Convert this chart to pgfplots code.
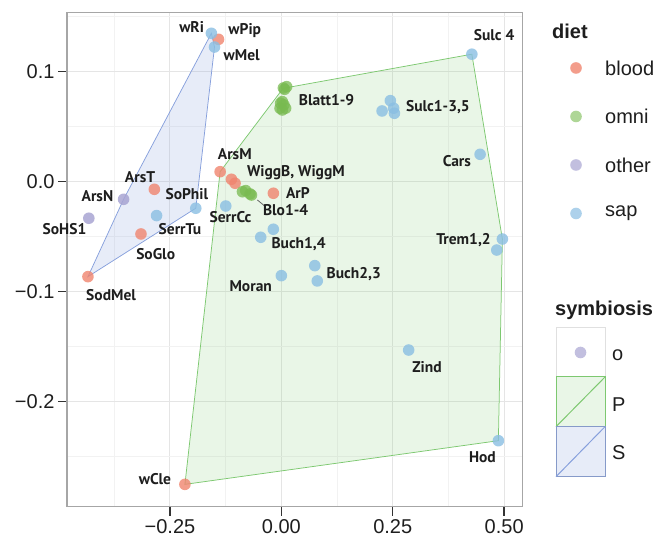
\documentclass[border=0pt]{standalone}
\usepackage{fontspec}
\setmainfont{Liberation Sans}
\newfontfamily\labfont{PT Sans}
\usepackage{pgfplots}
\pgfplotsset{compat=1.18}
\definecolor{cblood}{RGB}{240,132,110}
\definecolor{comni}{RGB}{120,186,80}
\definecolor{cother}{RGB}{168,164,210}
\definecolor{csap}{RGB}{138,190,226}
\definecolor{hullP}{RGB}{125,200,112}
\definecolor{hullS}{RGB}{135,160,220}
\definecolor{txt}{RGB}{30,30,30}
\begin{document}
\begin{tikzpicture}[x=1bp,y=1bp]
\path[use as bounding box] (0,0) rectangle (662,542);
\begin{axis}[
  at={(67bp,35.3bp)}, anchor=south west,
  scale only axis, width=455.7bp, height=494.4bp,
  xmin=-0.481, xmax=0.5416, ymin=-0.2958, ymax=0.1536,
  xtick={-0.25,0,0.25,0.5}, xticklabels={−0.25,0.00,0.25,0.50},
  ytick={-0.2,-0.1,0,0.1}, yticklabels={−0.2,−0.1,0.0,0.1},
  minor xtick={-0.375,-0.125,0.125,0.375},
  minor ytick={-0.25,-0.15,-0.05,0.05,0.15},
  grid=both,
  major grid style={line width=0.9bp, black!10},
  minor grid style={line width=0.6bp, black!5},
  tick align=outside, xtick pos=left, ytick pos=left,
  major tick length=9bp, minor tick length=0pt,
  major tick style={line width=1.4bp, black!80},
  axis line style={line width=1.2bp, black!35},
  tick label style={font=\fontsize{20bp}{23bp}\selectfont, text=txt},
  clip=false,
]
% hulls
\addplot[draw=hullP, line width=0.75bp, fill=hullP, fill opacity=0.17] coordinates {
 (-0.2164,-0.2755) (0.487,-0.2358) (0.496,-0.0525) (0.4275,0.1155) (0.004,0.0845) (-0.1374,0.0087)} -- cycle;
\addplot[draw=hullS, line width=0.75bp, fill=hullS, fill opacity=0.2] coordinates {
 (-0.157,0.1345) (-0.150,0.122) (-0.192,-0.0245) (-0.434,-0.0867) (-0.354,-0.0164)} -- cycle;
% points
\addplot[only marks, mark=*, mark size=5.8bp, mark options={fill=cblood, draw opacity=0, fill opacity=0.8}] coordinates {
 (-0.141,0.129) (-0.1374,0.0087) (-0.112,0.0018) (-0.1038,-0.0018) (-0.0179,-0.0109)
 (-0.285,-0.0073) (-0.315,-0.0479) (-0.434,-0.0867) (-0.2164,-0.2755)};
\addplot[only marks, mark=*, mark size=5.8bp, mark options={fill=comni, draw opacity=0, fill opacity=0.75}] coordinates {
 (0.0045,0.0848) (0.0119,0.086) (0.0074,0.0836) (0.0022,0.0724) (0.0058,0.0694)
 (-0.003,0.0664) (0.0022,0.0648) (0.0096,0.0664) (-0.0016,0.0709)
 (-0.0873,-0.0095) (-0.080,-0.0085) (-0.0703,-0.0115) (-0.067,-0.0125)};
\addplot[only marks, mark=*, mark size=5.8bp, mark options={fill=cother, draw opacity=0, fill opacity=0.85}] coordinates {
 (-0.354,-0.0164) (-0.432,-0.0336)};
\addplot[only marks, mark=*, mark size=5.8bp, mark options={fill=csap, draw opacity=0, fill opacity=0.8}] coordinates {
 (-0.157,0.1345) (-0.150,0.122) (-0.192,-0.0245) (-0.280,-0.0312) (-0.1247,-0.0225)
 (-0.018,-0.0436) (-0.0463,-0.0509) (0.0,-0.0858) (0.075,-0.0767) (0.0806,-0.0906)
 (0.4275,0.1155) (0.2446,0.0733) (0.226,0.0639) (0.252,0.0664) (0.2537,0.0618)
 (0.446,0.0245) (0.496,-0.0525) (0.4834,-0.0625) (0.2857,-0.1534) (0.487,-0.2358)};
% leader line
\draw[black!60, line width=0.8bp] (axis cs:-0.0537,-0.0170) -- (axis cs:-0.0374,-0.0225);
% labels
\begin{scope}[every node/.style={font=\labfont\bfseries\fontsize{15.5bp}{18bp}\selectfont, text=txt, inner sep=0pt}]
\node at (axis cs:-0.2014,0.1405) {wRi};
\node at (axis cs:-0.0821,0.1369) {wPip};
\node at (axis cs:-0.0889,0.1148) {wMel};
\node at (axis cs:0.1014,0.0742) {Blatt1-9};
\node at (axis cs:-0.1045,0.0248) {ArsM};
\node at (axis cs:0.0327,0.0080) {WiggB, WiggM};
\node at (axis cs:0.0372,-0.0104) {ArP};
\node at (axis cs:0.0096,-0.0261) {Blo1-4};
\node at (axis cs:-0.3171,0.0039) {ArsT};
\node at (axis cs:-0.4127,-0.0134) {ArsN};
\node at (axis cs:-0.2120,-0.0115) {SoPhil};
\node at (axis cs:-0.4866,-0.0434) {SoHS1};
\node at (axis cs:-0.2276,-0.0434) {SerrTu};
\node at (axis cs:-0.1141,-0.0327) {SerrCc};
\node at (axis cs:-0.2820,-0.0661) {SoGlo};
\node at (axis cs:-0.3821,-0.1034) {SodMel};
\node at (axis cs:0.0387,-0.0570) {Buch1,4};
\node at (axis cs:-0.0687,-0.0958) {Moran};
\node at (axis cs:0.1625,-0.0843) {Buch2,3};
\node at (axis cs:0.4774,0.1330) {Sulc 4};
\node at (axis cs:0.3514,0.0671) {Sulc1-3,5};
\node at (axis cs:0.3939,0.0185) {Cars};
\node at (axis cs:0.4087,-0.0534) {Trem1,2};
\node at (axis cs:0.3268,-0.1685) {Zind};
\node at (axis cs:0.4512,-0.2504) {Hod};
\node at (axis cs:-0.2836,-0.2706) {wCle};
\end{scope}
\end{axis}
% legend: diet
\begin{scope}[every node/.style={inner sep=0pt, text=txt}]
\node[anchor=west, font=\bfseries\fontsize{20bp}{24bp}\selectfont] at (552,511) {diet};
\fill[cblood, opacity=0.8] (576,474) circle (5.8);
\fill[comni, opacity=0.6] (576,425.5) circle (5.8);
\fill[cother, opacity=0.7] (576,377) circle (5.8);
\fill[csap, opacity=0.7] (576,328.5) circle (5.8);
\node[anchor=west, font=\fontsize{20bp}{24bp}\selectfont] at (605,474) {blood};
\node[anchor=west, font=\fontsize{20bp}{24bp}\selectfont] at (605,425.5) {omni};
\node[anchor=west, font=\fontsize{20bp}{24bp}\selectfont] at (605,377) {other};
\node[anchor=west, font=\fontsize{20bp}{24bp}\selectfont] at (605,328.5) {sap};
\node[anchor=west, font=\bfseries\fontsize{20bp}{24bp}\selectfont] at (555,232) {symbiosis};
\draw[black!12, line width=1bp] (556,165) rectangle (605,214);
\fill[cother, opacity=0.7] (580.5,189.5) circle (5.8);
\fill[hullP, opacity=0.17] (556,115.3) rectangle (605,165);
\draw[hullP, line width=1bp] (556,115.3) rectangle (605,165);
\draw[hullP, line width=1bp] (556,115.3) -- (605,165);
\fill[hullS, opacity=0.2] (556,65.3) rectangle (605,115.3);
\draw[hullS!80!gray, line width=1bp] (556,65.3) rectangle (605,115.3);
\draw[hullS, line width=1bp] (556,65.3) -- (605,115.3);
\node[anchor=west, font=\fontsize{20bp}{24bp}\selectfont] at (612,187) {o};
\node[anchor=west, font=\fontsize{20bp}{24bp}\selectfont] at (612,137) {P};
\node[anchor=west, font=\fontsize{20bp}{24bp}\selectfont] at (612,89) {S};
\end{scope}
\end{tikzpicture}
\end{document}
